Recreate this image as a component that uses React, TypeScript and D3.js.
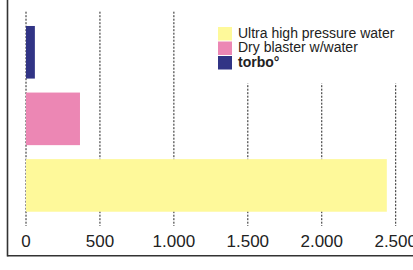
import React from "react";
import * as d3 from "d3";

const categories = ["Ultra high pressure water", "Dry blaster w/water", "torbo°"];
const values = [2440, 365, 60];
const colors = ["#FEF99A", "#EC87B4", "#313485"];
const ticks = [0, 500, 1000, 1500, 2000, 2500];
const legendOrder = [0, 1, 2];

const W = 413;
const H = 270;

export default function App() {
  const x = d3.scaleLinear().domain([0, 2500]).range([26, 395.7]);
  // bars from bottom to top: ultra at bottom
  const y = d3
    .scaleBand<string>()
    .domain([categories[2], categories[1], categories[0]])
    .range([12, 225.7])
    .paddingInner(0.21)
    .paddingOuter(0.21);
  const fmt = (v: number) => d3.format(",")(v).replace(/,/g, ".");
  const legendX = 218;
  const legendY = 27;
  const pitch = 14.5;
  return (
    <div style={{ position: "absolute", left: 0, top: 0 }}>
      <svg width={W} height={H} style={{ display: "block" }}>
        <rect x={0} y={0} width={W} height={H} fill="#fff" />
        {ticks.map((t) => (
          <line
            key={t}
            x1={x(t)}
            x2={x(t)}
            y1={11.7}
            y2={226}
            stroke="#222"
            strokeWidth={1}
            strokeDasharray="2,1.5"
          />
        ))}
        {categories.map((c, i) => (
          <rect
            key={c}
            x={x(0)}
            y={y(c)}
            width={x(values[i]) - x(0)}
            height={y.bandwidth()}
            fill={colors[i]}
          />
        ))}
        <rect x={200} y={11} width={W - 200} height={72.5} fill="#fff" />
        {legendOrder.map((i, k) => (
          <g key={i} transform={`translate(${legendX},${legendY + k * pitch})`}>
            <rect x={0} y={0} width={14} height={13.5} fill={colors[i]} />
            <text
              x={20}
              y={10.8}
              fontFamily="Liberation Sans, Arial, sans-serif"
              fontSize={14}
              fontWeight={i === 2 ? "bold" : "normal"}
              fill="#222"
            >
              {categories[i]}
            </text>
          </g>
        ))}
        {ticks.map((t) => (
          <text
            key={"l" + t}
            x={x(t)}
            y={247}
            textAnchor="middle"
            fontFamily="Liberation Sans, Arial, sans-serif"
            fontSize={17}
            fill="#222"
          >
            {fmt(t)}
          </text>
        ))}
        <line x1={7.5} x2={7.5} y1={0} y2={256.5} stroke="#333" strokeWidth={1.6} />
        <line x1={7.5} x2={W} y1={255.7} y2={255.7} stroke="#333" strokeWidth={1.6} />
      </svg>
    </div>
  );
}
